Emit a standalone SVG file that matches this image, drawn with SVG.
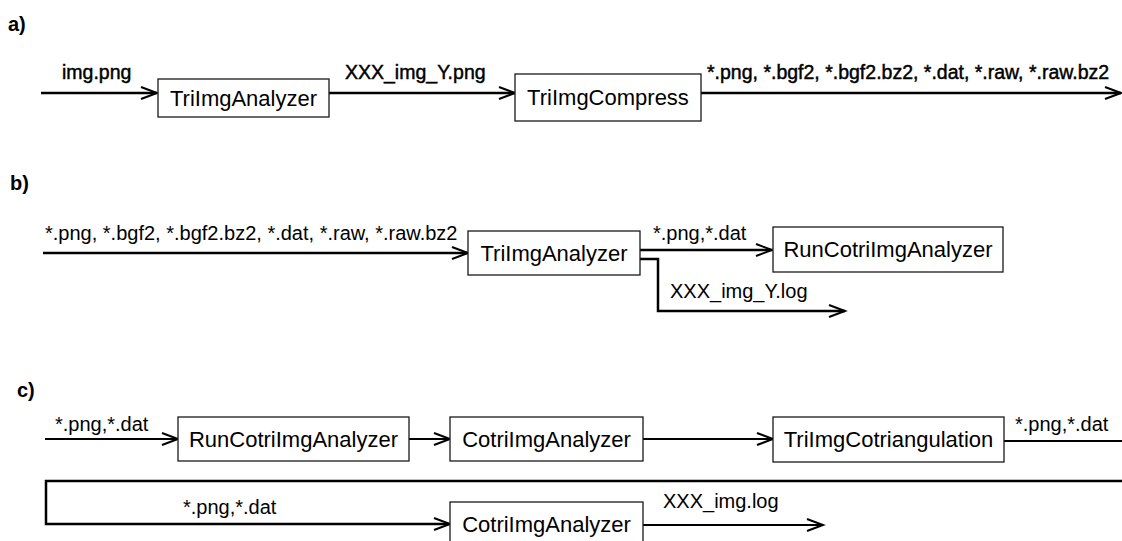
<svg xmlns="http://www.w3.org/2000/svg" width="1122" height="541" viewBox="0 0 1122 541">
<style>
.bx{fill:#fff;stroke:#1a1a1a;stroke-width:1.3}
.bt{font-family:"Liberation Sans",Arial,sans-serif;font-size:22px;fill:#000;text-anchor:middle}
.lb{font-family:"Liberation Sans",Arial,sans-serif;font-size:20px;fill:#000}
.lbb{font-family:"Liberation Sans",Arial,sans-serif;font-size:19.5px;fill:#000;stroke:#000;stroke-width:0.45}
.sec{font-family:"Liberation Sans",Arial,sans-serif;font-size:20px;font-weight:bold;fill:#000}
.ln{fill:none;stroke:#000;stroke-width:2.5}
.ln2{fill:none;stroke:#000;stroke-width:2}
.ar{marker-end:url(#arr)}
</style>
<defs>
<marker id="arr" markerUnits="userSpaceOnUse" markerWidth="20" markerHeight="16" refX="17" refY="7" orient="auto">
<path d="M1,1 L17,7 L1,13" fill="none" stroke="#000" stroke-width="2"/>
</marker>
</defs>
<rect width="1122" height="541" fill="#fff"/>
<text class="sec" x="8" y="31">a)</text>
<text class="sec" x="10" y="190">b)</text>
<text class="sec" x="17" y="397">c)</text>
<g id="connectors">
<path class="ln ar" d="M41,93 H157"/>
<path class="ln ar" d="M329,93 H515"/>
<path class="ln ar" d="M701,93 H1121"/>
<path class="ln ar" d="M43,253 H468"/>
<path class="ln ar" d="M640,250 H772"/>
<path class="ln ar" d="M640,259 H658 V311 H845"/>
<path class="ln2 ar" d="M45,439 H178"/>
<path class="ln2 ar" d="M409,439 H450"/>
<path class="ln2 ar" d="M643,439 H773"/>
<path class="ln2" d="M1004,441 H1122"/>
<path class="ln ar" d="M1122,481 H46 V524 H450"/>
<path class="ln2 ar" d="M643,525 H823"/>
<text class="lbb" x="62" y="79">img.png</text>
<text class="lbb" x="345" y="79">XXX_img_Y.png</text>
<text class="lbb" x="707" y="79">*.png, *.bgf2, *.bgf2.bz2, *.dat, *.raw, *.raw.bz2</text>
<text class="lb" x="45" y="240">*.png, *.bgf2, *.bgf2.bz2, *.dat, *.raw, *.raw.bz2</text>
<text class="lb" x="653" y="240">*.png,*.dat</text>
<text class="lb" x="670" y="298">XXX_img_Y.log</text>
<text class="lb" x="55" y="431">*.png,*.dat</text>
<text class="lb" x="1015" y="431">*.png,*.dat</text>
<text class="lb" x="183" y="514">*.png,*.dat</text>
<text class="lb" x="663" y="508">XXX_img.log</text>
</g>
<g id="a-TriImgAnalyzer"><rect class="bx" x="158" y="79" width="171" height="38"/><text class="bt" x="243.5" y="106">TriImgAnalyzer</text></g>
<g id="a-TriImgCompress"><rect class="bx" x="515" y="74" width="186" height="47"/><text class="bt" x="608" y="105">TriImgCompress</text></g>
<g id="b-TriImgAnalyzer"><rect class="bx" x="468" y="231" width="172" height="44"/><text class="bt" x="554" y="261">TriImgAnalyzer</text></g>
<g id="b-RunCotriImgAnalyzer"><rect class="bx" x="773" y="227" width="230" height="45"/><text class="bt" x="888" y="257">RunCotriImgAnalyzer</text></g>
<g id="c-RunCotriImgAnalyzer"><rect class="bx" x="178" y="417" width="231" height="44"/><text class="bt" x="293.5" y="447">RunCotriImgAnalyzer</text></g>
<g id="c-CotriImgAnalyzer1"><rect class="bx" x="450" y="417" width="193" height="44"/><text class="bt" x="546.5" y="447">CotriImgAnalyzer</text></g>
<g id="c-TriImgCotriangulation"><rect class="bx" x="773" y="417" width="231" height="45"/><text class="bt" x="888.5" y="447">TriImgCotriangulation</text></g>
<g id="c-CotriImgAnalyzer2"><rect class="bx" x="450" y="502" width="193" height="44"/><text class="bt" x="546.5" y="532">CotriImgAnalyzer</text></g>
</svg>
